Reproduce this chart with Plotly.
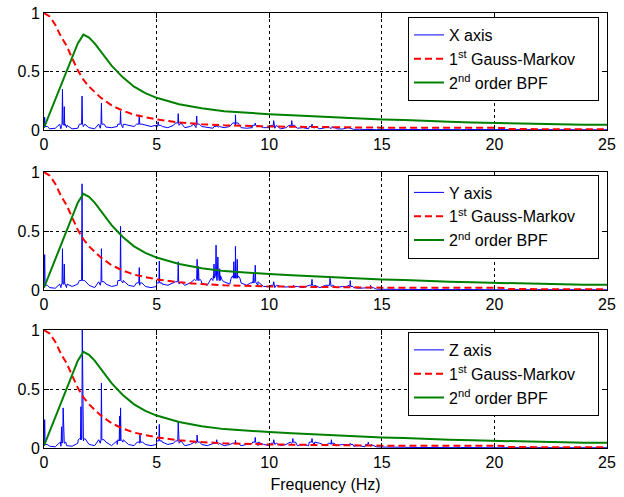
import numpy as np
import plotly.graph_objects as go

# ---------------- data ----------------
FLOOR_F = [round(0.25 * i, 2) for i in range(101)]  # 0 .. 25 Hz grid of the noise floor

X_FLOOR = [
    0.02, 0.01, 0.015, 0.01,
    0.02, 0.01, 0.015, 0.03,
    0.02, 0.01, 0.015, 0.025,
    0.02, 0.03, 0.02, 0.04,
    0.03, 0.05, 0.04, 0.03,
    0.02, 0.03, 0.02, 0.04,
    0.04, 0.02, 0.03, 0.02,
    0.03, 0.02, 0.015, 0.025,
    0.02, 0.03, 0.04, 0.02,
    0.015, 0.02, 0.03, 0.02,
    0.02, 0.015, 0.01, 0.02,
    0.025, 0.015, 0.02, 0.01,
    0.015, 0.01, 0.02, 0.012,
    0.01, 0.008, 0.02, 0.006,
    0.006, 0.004, 0.006, 0.003,
    0.005, 0.004, 0.006, 0.003,
    0.004, 0.005, 0.003, 0.004,
    0.004, 0.003, 0.005, 0.003,
    0.003, 0.004, 0.003, 0.004,
    0.004, 0.003, 0.004, 0.003,
    0.003, 0.004, 0.003, 0.003,
    0.003, 0.002, 0.003, 0.004,
    0.003, 0.003, 0.002, 0.003,
    0.002, 0.003, 0.003, 0.002,
    0.003, 0.002, 0.003, 0.002,
    0.002,
]
Y_FLOOR = [
    0.03, 0.02, 0.015, 0.02,
    0.02, 0.03, 0.05, 0.08,
    0.04, 0.02, 0.04, 0.05,
    0.03, 0.04, 0.06, 0.04,
    0.03, 0.04, 0.03, 0.02,
    0.03, 0.05, 0.04, 0.06,
    0.05, 0.04, 0.06, 0.08,
    0.06, 0.04, 0.08, 0.12,
    0.07, 0.05, 0.10, 0.06,
    0.04, 0.06, 0.04, 0.03,
    0.03, 0.02, 0.03, 0.025,
    0.02, 0.03, 0.02, 0.04,
    0.03, 0.02, 0.04, 0.03,
    0.02, 0.03, 0.04, 0.02,
    0.015, 0.02, 0.01, 0.008,
    0.006, 0.005, 0.007, 0.004,
    0.005, 0.004, 0.006, 0.004,
    0.004, 0.005, 0.003, 0.004,
    0.004, 0.003, 0.004, 0.003,
    0.003, 0.004, 0.003, 0.004,
    0.003, 0.003, 0.002, 0.003,
    0.003, 0.002, 0.003, 0.003,
    0.002, 0.003, 0.002, 0.003,
    0.002, 0.003, 0.002, 0.002,
    0.003, 0.002, 0.002, 0.003,
    0.002,
]
Z_FLOOR = [
    0.02, 0.015, 0.01, 0.015,
    0.02, 0.015, 0.04, 0.06,
    0.03, 0.02, 0.04, 0.05,
    0.02, 0.03, 0.05, 0.03,
    0.02, 0.04, 0.03, 0.02,
    0.03, 0.05, 0.03, 0.04,
    0.04, 0.02, 0.03, 0.04,
    0.03, 0.02, 0.04, 0.03,
    0.02, 0.03, 0.04, 0.02,
    0.03, 0.04, 0.02, 0.03,
    0.02, 0.03, 0.02, 0.03,
    0.04, 0.02, 0.03, 0.02,
    0.03, 0.04, 0.02, 0.03,
    0.02, 0.03, 0.02, 0.015,
    0.02, 0.01, 0.015, 0.01,
    0.008, 0.006, 0.008, 0.005,
    0.006, 0.005, 0.004, 0.006,
    0.004, 0.005, 0.004, 0.003,
    0.004, 0.003, 0.004, 0.003,
    0.003, 0.004, 0.003, 0.003,
    0.003, 0.002, 0.003, 0.003,
    0.002, 0.003, 0.002, 0.003,
    0.002, 0.003, 0.002, 0.002,
    0.002, 0.003, 0.002, 0.002,
    0.003, 0.002, 0.002, 0.002,
    0.002,
]

# spectral spikes: (frequency Hz, peak height, skirt height)
X_PEAKS = [
    (0.03, 0.11, 0.03), (0.82, 0.35, 0.05), (0.90, 0.20, 0.04), (1.69, 0.29, 0.05),
    (2.55, 0.23, 0.05), (3.40, 0.16, 0.05), (4.23, 0.13, 0.05), (5.07, 0.07, 0.04),
    (5.96, 0.14, 0.06), (6.78, 0.12, 0.05), (7.67, 0.05, 0.03), (8.50, 0.13, 0.06),
    (9.38, 0.06, 0.04), (10.2, 0.08, 0.04), (11.0, 0.08, 0.04), (11.9, 0.05, 0.03),
    (12.8, 0.03, 0.02),
]
Y_PEAKS = [
    (0.03, 0.30, 0.04), (0.82, 0.35, 0.05), (0.90, 0.22, 0.05), (1.69, 0.90, 0.08),
    (2.55, 0.35, 0.07), (3.40, 0.54, 0.08), (4.23, 0.19, 0.06), (5.12, 0.245, 0.06),
    (5.96, 0.24, 0.07), (6.80, 0.26, 0.09), (6.86, 0.20, 0.08), (7.55, 0.22, 0.10),
    (7.64, 0.38, 0.12), (7.72, 0.28, 0.12), (7.80, 0.18, 0.08), (8.43, 0.24, 0.10),
    (8.50, 0.37, 0.12), (8.58, 0.26, 0.10), (9.30, 0.15, 0.06), (9.38, 0.21, 0.07),
    (10.2, 0.07, 0.04), (11.08, 0.04, 0.03), (11.9, 0.09, 0.04), (12.7, 0.10, 0.04),
    (13.6, 0.08, 0.03), (14.5, 0.04, 0.02),
]
Z_PEAKS = [
    (0.03, 0.24, 0.03), (0.78, 0.18, 0.04), (0.85, 0.34, 0.05), (1.64, 0.35, 0.07),
    (1.70, 1.00, 0.08), (2.55, 0.55, 0.07), (3.36, 0.27, 0.06), (3.40, 0.34, 0.07),
    (4.26, 0.12, 0.05), (5.12, 0.20, 0.06), (5.96, 0.22, 0.06), (6.80, 0.11, 0.05),
    (7.67, 0.07, 0.04), (8.50, 0.065, 0.04), (9.38, 0.09, 0.05), (10.2, 0.07, 0.04),
    (11.05, 0.08, 0.05), (11.9, 0.08, 0.05), (12.76, 0.07, 0.04), (13.6, 0.04, 0.03),
    (14.4, 0.05, 0.03),
]

# 1st order Gauss-Markov model (normalised PSD)
GM_F = [0, 0.25, 0.5, 0.75, 1.0, 1.25, 1.5, 1.75, 2.0, 2.5, 3.0, 3.5, 4.0, 5.0,
        6.0, 7.0, 8.0, 10.0, 12.0, 15.0, 20.5, 20.6, 25.0]
GM_V = [1.0, 0.97, 0.9, 0.8, 0.72, 0.62, 0.51, 0.43, 0.37, 0.28, 0.21, 0.165, 0.13, 0.09,
        0.065, 0.05, 0.04, 0.03, 0.025, 0.02, 0.018, 0.008, 0.006]

# 2nd order band-pass filter model
BPF_F = [0, 0.25, 0.5, 0.75, 1.0, 1.25, 1.5, 1.75, 2.0, 2.25, 2.5, 2.75, 3.0, 3.5, 4.0,
         4.5, 5.0, 6.0, 7.0, 8.0, 9.0, 10.0, 11.0, 12.0, 13.0, 14.0, 15.0, 16.0, 17.0,
         18.0, 19.0, 20.0, 21.0, 22.0, 23.0, 24.0, 25.0]
BPF_V = [0.02, 0.14, 0.26, 0.37, 0.5, 0.62, 0.74, 0.815, 0.79, 0.74, 0.68, 0.61, 0.55,
         0.45, 0.37, 0.315, 0.275, 0.22, 0.185, 0.16, 0.145, 0.135, 0.125, 0.115, 0.105,
         0.1, 0.09, 0.085, 0.075, 0.07, 0.065, 0.06, 0.055, 0.05, 0.047, 0.045, 0.045]

AXIS_NAMES = ["X axis", "Y axis", "Z axis"]
GM_NAME = "1<sup>st</sup> Gauss-Markov"
BPF_NAME = "2<sup>nd</sup> order BPF"
FLOORS = [X_FLOOR, Y_FLOOR, Z_FLOOR]
PEAKS = [X_PEAKS, Y_PEAKS, Z_PEAKS]
X_TICKS = [0, 5, 10, 15, 20, 25]
Y_TICKS = [0, 0.5, 1]


def spectrum(floor, peaks):
    pts = list(zip(FLOOR_F, floor))
    for f, h, s in peaks:
        pts += [(f - 0.12, s), (f - 0.02, s), (f, h), (f + 0.02, s), (f + 0.12, s)]
    pts = [(min(max(f, 0.0), 25.0), v) for f, v in pts]
    pts.sort(key=lambda p: p[0])
    return [p[0] for p in pts], [p[1] for p in pts]


# ---------------- figure ----------------
W, H = 624, 497
TOP, BOT = 13, 448
plot_px = [(13, 130), (172, 290), (330, 448)]
span = BOT - TOP
domains = [((BOT - b) / span, (BOT - t) / span) for t, b in plot_px]
legend_tops = [17, 174.5, 332]
PAD = "\u00a0" * 4

FONT = "Liberation Sans, Arial, sans-serif"
fig = go.Figure()
layout = dict(
    width=W, height=H,
    margin=dict(l=44, r=17, t=TOP, b=H - BOT, autoexpand=False),
    paper_bgcolor="white", plot_bgcolor="white",
    font=dict(family=FONT, size=16, color="black"),
    showlegend=True,
)

for i in range(3):
    k = "" if i == 0 else str(i + 1)
    xa, ya = "x" + k, "y" + k
    leg = "legend" + k
    fx, fy = spectrum(FLOORS[i], PEAKS[i])
    fig.add_trace(go.Scatter(x=fx, y=fy, mode="lines", name=AXIS_NAMES[i],
                             line=dict(color="#0000ff", width=1),
                             xaxis=xa, yaxis=ya, legend=leg))
    fig.add_trace(go.Scatter(x=GM_F, y=GM_V, mode="lines", name=GM_NAME + PAD,
                             line=dict(color="#ff0000", width=2, dash="7px,4px"),
                             xaxis=xa, yaxis=ya, legend=leg))
    fig.add_trace(go.Scatter(x=BPF_F, y=BPF_V, mode="lines", name=BPF_NAME,
                             line=dict(color="#008000", width=2),
                             xaxis=xa, yaxis=ya, legend=leg))
    common = dict(showline=True, linecolor="black", linewidth=1, mirror="ticks",
                  ticks="inside", ticklen=5, tickcolor="black",
                  showgrid=True, gridcolor="black", gridwidth=1, griddash="3px,3px",
                  zeroline=False, automargin=False,
                  tickfont=dict(size=16, family=FONT, color="black"))
    layout["xaxis" + k] = dict(range=[0, 25], tickvals=X_TICKS, domain=[0, 1],
                              anchor=ya, **common)
    if i == 2:
        layout["xaxis" + k]["title"] = dict(text="Frequency (Hz)", standoff=8,
                                            font=dict(size=16, family=FONT))
    layout["yaxis" + k] = dict(range=[0, 1], tickvals=Y_TICKS, ticktext=["0", "0.5", "1"],
                              domain=list(domains[i]), anchor=xa, **common)
    layout[leg] = dict(x=(599 - 44) / 563, y=(BOT - legend_tops[i]) / span,
                       xanchor="right", yanchor="top",
                       bgcolor="white", bordercolor="black", borderwidth=1,
                       font=dict(size=16, family=FONT, color="black"),
                       itemwidth=30, tracegroupgap=0)

fig.update_layout(**layout)
fig.write_html("out.html", config={"displayModeBar": False},
               post_script="document.body.style.margin='0';")
